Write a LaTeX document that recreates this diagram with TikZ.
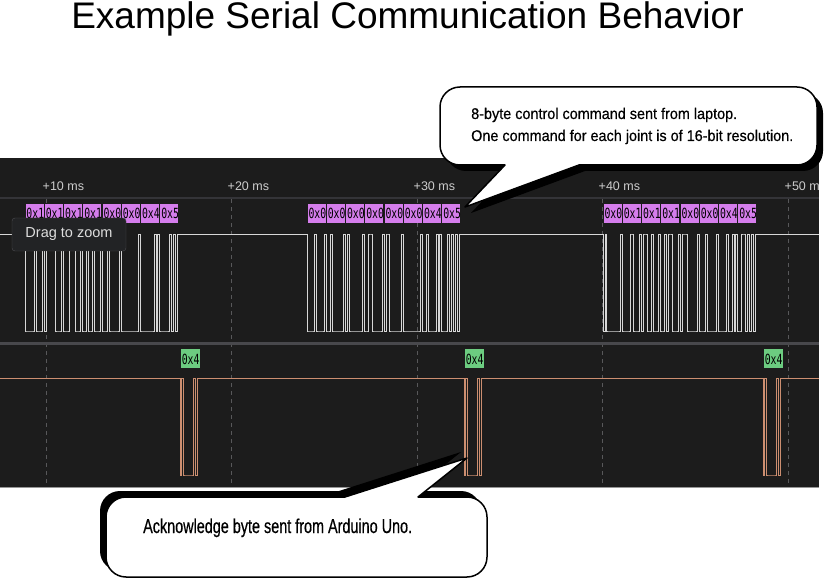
\documentclass[tikz,border=0pt]{standalone}
\usepackage{fontspec}
\setmainfont{Liberation Sans}
\newfontfamily\bytefont[FakeStretch=0.7]{DejaVu Sans Mono}
\newfontfamily\cmdnotefont[FakeStretch=0.93, FakeBold=0.4]{Liberation Sans}
\newfontfamily\acknotefont[FakeStretch=0.72, FakeBold=0.5]{Liberation Sans}
\usepackage{tikz}
\usetikzlibrary{shadows}
\definecolor{panelbg}{RGB}{28,28,28}
\definecolor{gridgray}{RGB}{88,88,90}
\definecolor{rulegray}{RGB}{52,52,56}
\definecolor{sepgray}{RGB}{72,72,76}
\definecolor{edgegray}{RGB}{150,150,150}
\definecolor{ticktext}{RGB}{205,205,205}
\definecolor{sigwhite}{RGB}{215,215,215}
\definecolor{sigorange}{RGB}{204,142,112}
\definecolor{cmdviolet}{RGB}{213,125,236}
\definecolor{ackgreen}{RGB}{108,204,128}
\definecolor{tipbg}{RGB}{34,35,37}
\definecolor{tipborder}{RGB}{78,78,82}
\definecolor{tiptext}{RGB}{222,222,222}
\tikzstyle{sig}=[%
      draw=sigwhite, line width=0.8pt
]
\tikzstyle{acksig}=[%
      draw=sigorange, line width=0.9pt
]
\tikzstyle{gridline}=[%
      draw=gridgray, line width=0.7pt, dash pattern=on 4pt off 4pt
]
\tikzstyle{tick}=[%
      text=ticktext, font=\fontsize{12.5}{14}\selectfont, anchor=base west, inner sep=0pt
]
\tikzstyle{bytelabel}=[%
      text=black, font=\bytefont\fontsize{14}{14}\selectfont, anchor=base west, inner sep=0pt
]
\tikzstyle{tooltip}=[%
      rectangle, rounded corners=3pt, draw=tipborder, fill=tipbg, text=tiptext,
      font=\fontsize{14.5}{16}\selectfont, minimum width=114pt, minimum height=33pt
]
\tikzstyle{bubble}=[%
      fill=white, draw=black, line width=1.5pt, line join=round
]
\tikzstyle{note}=[%
      anchor=base west, inner sep=0pt, text=black
]
\tikzset{declare function={ubit(\bval,\bpos)=(\bpos<0)+(\bpos>8)+(\bpos>0)*(\bpos<9)*mod(floor(\bval/2^(max(\bpos-1,0))),2);}}
\newcommand\bitw{1.925}
% one UART frame: style, x start, byte value, y high, y low
\newcommand\uartframe[5]{%
  \draw[#1] ({#2},{#4})
    \foreach \k in {0,...,9} {
      -- ({#2+\k*\bitw},{#5-(#5-#4)*ubit(#3,\k-1)})
      -- ({#2+\k*\bitw},{#5-(#5-#4)*ubit(#3,\k)})
    } -- ({#2+10*\bitw},{#4});%
}
\begin{document}
\begin{tikzpicture}[x=1pt, y=-1pt]
    \useasboundingbox (0,0) rectangle (825,580);

    \node[note, anchor=base, font=\fontsize{37}{40}\selectfont] (title) at (407.5,29) {Example Serial Communication Behavior};

    \begin{scope}
    \clip (0,158) rectangle (819,488);
    \fill[panelbg] (0,158) rectangle (819,488);
    \foreach \x/\t in {46/10, 231/20, 417/30, 602/40, 788/50} {
        \draw[gridline] (\x,199) -- (\x,487);
        \node[tick] (t\t) at (\x-3.5,191) {+\t\ ms};
    }
    \draw[rulegray, line width=1.5pt] (0,198) -- (819,198);
    \draw[sepgray, line width=3pt] (0,343) -- (819,343);
    \draw[edgegray, line width=1.5pt] (0,487.5) -- (819,487.5);

    % laptop -> arduino
    \draw[sig] (0,234) -- (25,234) (179,234) -- (307,234) (461,234) -- (603,234) (757,234) -- (819,234);
    \foreach \val/\hex [count=\i from 0] in {16/1, 31/1, 28/1, 18/1, 4/0, 0/0, 64/4, 80/5} {
        \pgfmathsetmacro\bx{25+\i*19.25}
        \uartframe{sig}{\bx}{\val}{234}{331}
        \fill[cmdviolet] ({\bx+0.6},204) rectangle ({\bx+18.7},223);
        \node[bytelabel] (cmdA-\i) at ({\bx+1.3},219) {0x\hex};
    }
    \foreach \val/\hex [count=\i from 0] in {8/0, 2/0, 1/0, 6/0, 3/0, 0/0, 66/4, 84/5} {
        \pgfmathsetmacro\bx{307+\i*19.25}
        \uartframe{sig}{\bx}{\val}{234}{331}
        \fill[cmdviolet] ({\bx+0.6},204) rectangle ({\bx+18.7},223);
        \node[bytelabel] (cmdB-\i) at ({\bx+1.3},219) {0x\hex};
    }
    \foreach \val/\hex [count=\i from 0] in {1/0, 24/1, 19/1, 26/1, 7/0, 4/0, 72/4, 86/5} {
        \pgfmathsetmacro\bx{603+\i*19.25}
        \uartframe{sig}{\bx}{\val}{234}{331}
        \fill[cmdviolet] ({\bx+0.6},204) rectangle ({\bx+18.7},223);
        \node[bytelabel] (cmdC-\i) at ({\bx+1.3},219) {0x\hex};
    }

    % arduino -> laptop
    \draw[acksig] (0,378) -- (180,378) (199.25,378) -- (464,378) (483.25,378) -- (763,378) (782.25,378) -- (819,378);
    \foreach \bx [count=\i] in {180, 464, 763} {
        \uartframe{acksig}{\bx}{65}{378}{475}
        \fill[ackgreen] ({\bx+1},349) rectangle ({\bx+20},368);
        \node[bytelabel] (ack-\i) at ({\bx+1.6},364) {0x4};
    }

    \node[tooltip] (dragtip) at (69,234.5) {Drag to zoom};
    \end{scope}

    % callouts
    \path[bubble, drop shadow={shadow xshift=6pt, shadow yshift=-6pt, fill=black, opacity=1}]
        (465,207) -- (505,165) [rounded corners=20pt] -- (440,165) -- (440,87) -- (817,87) -- (817,165) [sharp corners] -- (579,165) -- cycle;
    \node[note, font=\cmdnotefont\fontsize{15.5}{18}\selectfont] (cmdnote1) at (471,119) {8-byte control command sent from laptop.};
    \node[note, font=\cmdnotefont\fontsize{15.5}{18}\selectfont] (cmdnote2) at (471,141) {One command for each joint is of 16-bit resolution.};

    \path[bubble, drop shadow={shadow xshift=-6pt, shadow yshift=6pt, fill=black, opacity=1}]
        (467,458) -- (418,497) [rounded corners=20pt] -- (487,497) -- (487,577) -- (106,577) -- (106,497) [sharp corners] -- (345,497) -- cycle;
    \node[note, font=\acknotefont\fontsize{20}{22}\selectfont] (acknote) at (143,533) {Acknowledge byte sent from Arduino Uno.};
\end{tikzpicture}
\end{document}
